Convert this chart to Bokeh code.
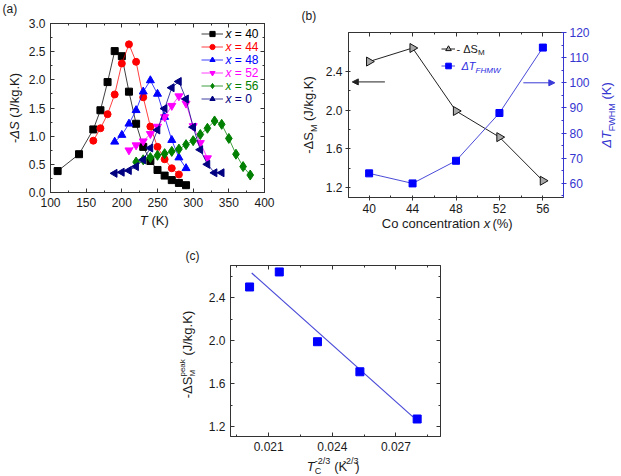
import math
from bokeh.plotting import figure
from bokeh.models import (Range1d, LinearAxis, Label, Legend, LegendItem, Arrow,
                          NormalHead, SingleIntervalTicker, PrintfTickFormatter,
                          CustomLabelingPolicy, Spacer)
from bokeh.layouts import column, row
from bokeh.embed import file_html
from bokeh.resources import INLINE

FONT = "Liberation Sans"
TXT = "#1a1a1a"
BLUE_AX = "#3535d0"
NB = "\u00a0"

# ---------------- data: panel (a) ----------------
T_40 = [110, 140, 160, 170, 180, 190, 200, 210, 220, 230, 240, 250, 260, 270, 280, 290]
S_40 = [0.38, 0.68, 1.12, 1.46, 1.96, 2.51, 2.42, 1.79, 1.22, 0.81, 0.56, 0.40, 0.30, 0.22, 0.17, 0.13]
T_44 = [160, 170, 180, 190, 200, 210, 220, 230, 240, 250, 260, 270, 280]
S_44 = [0.92, 1.14, 1.39, 1.74, 2.29, 2.63, 2.32, 1.69, 1.17, 0.81, 0.59, 0.43, 0.32]
T_48 = [190, 200, 210, 220, 230, 240, 250, 260, 270, 280, 290]
S_48 = [0.90, 1.02, 1.22, 1.46, 1.79, 1.99, 1.75, 1.34, 0.93, 0.62, 0.43]
T_52 = [210, 220, 230, 240, 250, 260, 270, 280, 290, 300, 310, 320]
S_52 = [0.75, 0.84, 0.91, 1.04, 1.17, 1.34, 1.54, 1.71, 1.58, 1.18, 0.88, 0.61]
T_56 = [220, 230, 240, 250, 260, 270, 280, 290, 300, 310, 320, 330, 340, 350, 360, 370, 380]
S_56 = [0.54, 0.58, 0.62, 0.66, 0.69, 0.73, 0.77, 0.85, 0.92, 1.03, 1.14, 1.27, 1.21, 0.96, 0.68, 0.46, 0.31]
T_0 = [190, 200, 210, 220, 230, 240, 250, 260, 270, 280, 290, 300, 310, 320, 330, 340]
S_0 = [0.34, 0.36, 0.39, 0.46, 0.58, 0.79, 1.11, 1.49, 1.86, 1.97, 1.66, 1.16, 0.76, 0.50, 0.35, 0.35]
series_labels = ["40", "44", "48", "52", "56", "0"]

# ---------------- data: panel (b) ----------------
conc = [40, 44, 48, 52, 56]
ds_peak = [2.50, 2.64, 1.99, 1.72, 1.27]
dt_fwhm = [64, 60, 69, 88, 114]

# ---------------- data: panel (c) ----------------
tc_inv = [0.0201, 0.0215, 0.0233, 0.0253, 0.0280]
ds_peak_c = [2.50, 2.64, 1.99, 1.71, 1.27]
fit_x = [0.0202, 0.0278]
fit_y = [2.63, 1.29]

# Arial / Liberation Sans advance widths (per 1000 em)
W = {' ': 278, NB: 278, '-': 333, '(': 333, ')': 333, '.': 278, '/': 278, '%': 889,
     '=': 584, 'Δ': 668, 'A': 667, 'C': 722, 'F': 611, 'H': 722, 'J': 500, 'K': 667,
     'M': 833, 'S': 667, 'T': 611, 'W': 944, 'a': 556, 'c': 500, 'e': 556, 'g': 556,
     'i': 222, 'k': 500, 'n': 556, 'o': 556, 'p': 556, 'r': 333, 't': 278, 'x': 500}
for d in "0123456789":
    W[d] = 556


def tw(s, fs):
    return sum(W.get(ch, 556) for ch in s) * fs / 1000.0


def _label(p, x, y, t, fs, st, color, angle, align, units):
    p.add_layout(Label(x=x, y=y, x_units=units, y_units=units, text=t, angle=angle,
                       text_font=FONT, text_font_size=f"{fs}px", text_font_style=st,
                       text_color=color, text_align=align, text_baseline="middle"))


def compose(p, pieces, cx, cy, angle=0.0, color=TXT, align="center", units="data"):
    """pieces: (text, font_px, style, center_shift_px, advances).
    First piece is right-aligned at a common anchor, the rest left-aligned after it."""
    total = sum(tw(t, fs) for (t, fs, st, sh, adv) in pieces if adv)
    start = -total / 2 if align == "center" else 0.0
    anchor = start + tw(pieces[0][0], pieces[0][1])
    pos = anchor
    for i, (t, fs, st, sh, adv) in enumerate(pieces):
        along = anchor if i == 0 else pos
        al = "right" if i == 0 else "left"
        if angle != 0:
            x, y = cx - sh, cy + along
        else:
            x, y = cx + along, cy + sh
        _label(p, x, y, t, fs, st, color, angle, al, units)
        if i > 0 and adv:
            pos += tw(t, fs)


def strip(w, h):
    s = figure(width=w, height=h, x_range=Range1d(0, w), y_range=Range1d(0, h),
               output_backend="svg", toolbar_location=None,
               x_axis_location=None, y_axis_location=None, min_border=0)
    s.grid.visible = False
    s.outline_line_color = None
    s.background_fill_color = "white"
    s.border_fill_color = "white"
    return s


def make_fig(width, height, xr, yr, left, right, top, bottom):
    p = figure(width=width, height=height, x_range=xr, y_range=yr,
               output_backend="svg", toolbar_location=None,
               min_border_left=left, min_border_right=right,
               min_border_top=top, min_border_bottom=bottom)
    p.grid.visible = False
    p.outline_line_color = "#333333"
    p.background_fill_color = "white"
    p.border_fill_color = "white"
    return p


def style_axis(ax, interval, labels=True, tin=4, tout=0, color="#333333",
               label_color=TXT, standoff=5, fmt=None):
    ax.ticker = SingleIntervalTicker(interval=interval, num_minor_ticks=2)
    ax.major_tick_in = tin
    ax.major_tick_out = tout
    ax.minor_tick_in = 2
    ax.minor_tick_out = 0
    ax.axis_line_color = color
    ax.major_tick_line_color = color
    ax.minor_tick_line_color = color
    ax.major_label_text_font = FONT
    ax.major_label_text_font_size = "12px"
    ax.major_label_text_color = label_color
    ax.major_label_standoff = standoff
    ax.axis_label = None
    if fmt is not None:
        ax.formatter = PrintfTickFormatter(format=fmt)
    if not labels:
        ax.major_label_policy = CustomLabelingPolicy(code="return []")


def mirror(p, side, interval, tin=4):
    ax = LinearAxis()
    p.add_layout(ax, side)
    style_axis(ax, interval, labels=False, tin=tin)
    return ax


SUB13, SUP13 = -5.0, 4.8

# ================= panel (a) =================
pa = make_fig(275, 212, Range1d(100, 400), Range1d(0, 3.0), 24, 36, 23, 20)
style_axis(pa.xaxis[0], 50)
style_axis(pa.yaxis[0], 0.5, fmt="%.1f")
mirror(pa, "above", 50)
mirror(pa, "right", 0.5)

series = [
    (T_40, S_40, "#000000", "square", 7, 0.0),
    (T_44, S_44, "#ff0000", "circle", 7, 0.0),
    (T_48, S_48, "#0000ff", "triangle", 8, 0.0),
    (T_52, S_52, "#ff00ff", "inverted_triangle", 8, 0.0),
    (T_56, S_56, "#008000", "diamond", 10, 0.0),
    (T_0, S_0, "#000080", "triangle", 8, math.pi / 2),
]
items = []
for (xs, ys, c, m, sz, ang) in series:
    ln = pa.line(xs, ys, line_color=c, line_width=1, line_alpha=0.75)
    sc = pa.scatter(xs, ys, marker=m, size=sz, angle=ang, fill_color=c, line_color=c)
    items.append(LegendItem(label=" ", renderers=[ln, sc]))

ROW_A = 13
TOP_A = 165.5
leg_a = Legend(items=items, location=(151, TOP_A - 6 * ROW_A), glyph_width=22,
               glyph_height=ROW_A, label_height=ROW_A, spacing=0, padding=0, margin=0,
               label_standoff=0, label_width=1, label_text_font_size="6px",
               border_line_color=None, background_fill_alpha=0)
pa.add_layout(leg_a)
for i, ((xs, ys, c, m, sz, ang), lab) in enumerate(zip(series, series_labels)):
    cy = TOP_A - ROW_A / 2 - i * ROW_A
    compose(pa, [("x", 12, "italic", 0, True), (NB + "=" + NB + lab, 12, "normal", 0, True)],
            175, cy, color=c, align="left", units="screen")

sa_l = strip(25, 240)
compose(sa_l, [("-", 13, "normal", 0, True), ("ΔS", 13, "italic", 0, True),
               (NB + "(J/kg.K)", 13, "normal", 0, True)], 14, 132.5, angle=math.pi / 2)
compose(sa_l, [("(a)", 12, "normal", 0, True)], 2, 232, align="left")
sa_b = strip(275, 28)
compose(sa_b, [("T", 13, "italic", 0, True), (NB + "(K)", 13, "normal", 0, True)],
        131.5, 20)
panel_a = row(sa_l, column(pa, sa_b))

# ================= panel (b) =================
pb = make_fig(270, 217, Range1d(38.1, 57.9), Range1d(1.097, 2.8), 24, 26, 32, 20)
pb.extra_y_ranges = {"right": Range1d(54.4, 120)}
style_axis(pb.xaxis[0], 4, tin=0, tout=3, standoff=3)
style_axis(pb.yaxis[0], 0.4, tin=0, tout=3, standoff=3, fmt="%.1f")
mirror(pb, "above", 4)
rax = LinearAxis(y_range_name="right")
pb.add_layout(rax, "right")
style_axis(rax, 10, tin=0, tout=3, color=BLUE_AX, label_color=BLUE_AX, standoff=3)

lb1 = pb.line(conc, ds_peak, line_color="#222222", line_width=1)
sb1 = pb.scatter(conc, ds_peak, marker="triangle", angle=-math.pi / 2, size=9,
                 fill_color="#a8a8a8", line_color="#111111")
lb2 = pb.line(conc, dt_fwhm, y_range_name="right", line_color="#4a4ad8", line_width=1)
sb2 = pb.scatter(conc, dt_fwhm, y_range_name="right", marker="square", size=7,
                 fill_color="#0000ff", line_color="#0000ff")
leg_b = Legend(items=[LegendItem(label=" ", renderers=[lb1, sb1]),
                      LegendItem(label=" ", renderers=[lb2, sb2])],
               location=(93, 123.2), glyph_width=14, glyph_height=17, label_height=17,
               spacing=0, padding=0, margin=0, label_standoff=0, label_width=1,
               label_text_font_size="6px", border_line_color=None,
               background_fill_alpha=0)
pb.add_layout(leg_b)
compose(pb, [("-" + NB + "ΔS", 11, "normal", 0, True), ("M", 8, "normal", -4, True)],
        108, 148.7, align="left", units="screen")
compose(pb, [("ΔT", 11, "italic", 0, True), ("FHMW", 8, "italic", -4, True)],
        113, 131.3, color="#2b2be0", align="left", units="screen")

pb.add_layout(Arrow(x_start=41.45, y_start=2.29, x_end=38.45, y_end=2.29,
                    line_color="#222222", line_width=1,
                    end=NormalHead(size=6, fill_color="#222222", line_color="#222222")))
pb.add_layout(Arrow(x_start=54.2, y_start=100, x_end=57.1, y_end=100,
                    y_range_name="right", line_color="#3a3ad8", line_width=1,
                    end=NormalHead(size=6, fill_color="#3a3ad8", line_color="#3a3ad8")))

sb_l = strip(22, 240)
compose(sb_l, [("-ΔS", 13, "normal", 0, True), ("M", 9, "normal", SUB13, True),
               (NB + "(J/kg.K)", 13, "normal", 0, True)], 8, 125.5, angle=math.pi / 2)
compose(sb_l, [("(b)", 12, "normal", 0, True)], 1, 225, align="left")
sb_b = strip(270, 23)
compose(sb_b, [("Co concentration" + NB, 13, "normal", 0, True), ("x", 13, "italic", 0, True),
               (NB + "(%)", 13, "normal", 0, True)], 134, 17)
sb_r = strip(29, 240)
compose(sb_r, [("ΔT", 13, "italic", 0, True), ("FWHM", 9, "normal", SUB13, True),
               (NB + "(K)", 13, "normal", 0, True)], 14, 125.5, angle=math.pi / 2,
        color=BLUE_AX)
panel_b = row(sb_l, column(pb, sb_b), sb_r)

# ================= panel (c) =================
pc = make_fig(265, 216, Range1d(0.0192, 0.0291), Range1d(1.107, 2.70), 25, 30, 25, 20)
style_axis(pc.xaxis[0], 0.003, fmt="%.3f")
style_axis(pc.yaxis[0], 0.4, fmt="%.1f")
mirror(pc, "above", 0.003)
mirror(pc, "right", 0.4)
pc.line(fit_x, fit_y, line_color="#4a4ad8", line_width=1.2)
pc.scatter(tc_inv, ds_peak_c, marker="square", size=8, fill_color="#0000ff",
           line_color="#0000ff")

sc_l = strip(205, 236)
compose(sc_l, [("-ΔS", 13, "normal", 0, True), ("M", 8, "normal", SUB13, False),
               ("peak", 8, "normal", SUP13, True), (NB + "(J/kg.K)", 13, "normal", 0, True)],
        187, 122, angle=math.pi / 2)
compose(sc_l, [("(c)", 12, "normal", 0, True)], 185, 221, align="left")
sc_b = strip(265, 20)
compose(sc_b, [("T", 13, "italic", 0, True), ("C", 9, "normal", SUB13, False),
               ("-2/3", 9, "normal", SUP13, True), (NB + NB + "(K", 13, "normal", 0, True),
               ("-2/3", 9, "normal", SUP13, True), (")", 13, "normal", 0, True)],
        130, 10.5)
panel_c = row(sc_l, column(pc, sc_b), Spacer(width=151, height=236))

layout = column(row(panel_a, panel_b), panel_c)
open("out.html", "w").write(file_html(layout, INLINE))
